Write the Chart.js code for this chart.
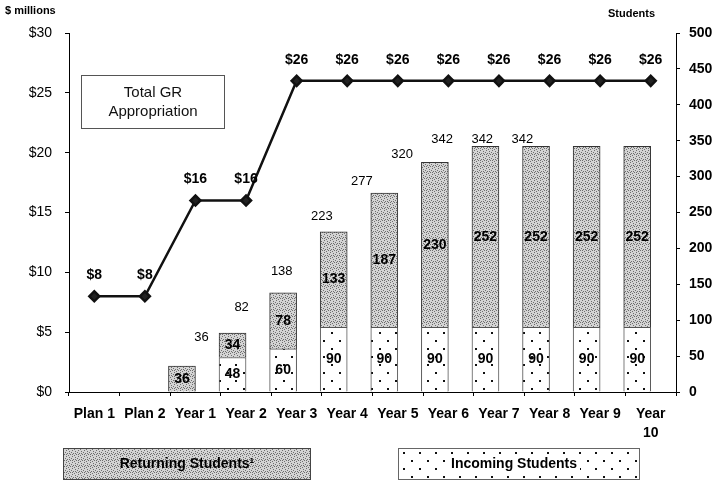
<!DOCTYPE html>
<html>
<head>
<meta charset="utf-8">
<script src="https://cdn.jsdelivr.net/npm/chart.js@4/dist/chart.umd.min.js"></script>
<style>
  html, body { margin: 0; padding: 0; background: #fff; }
  #wrap { width: 716px; height: 483px; }
</style>
</head>
<body>
<div id="wrap"><canvas id="myChart" width="716" height="483"></canvas></div>
<script>
const labels = ['Plan 1', 'Plan 2', 'Year 1', 'Year 2', 'Year 3', 'Year 4', 'Year 5',
  'Year 6', 'Year 7', 'Year 8', 'Year 9', ['Year', '10']];
const appropriation = [8, 8, 16, 16, 26, 26, 26, 26, 26, 26, 26, 26];
const incoming = [null, null, null, 48, 60, 90, 90, 90, 90, 90, 90, 90];
const returning = [null, null, 36, 34, 78, 133, 187, 230, 252, 252, 252, 252];
// total labels as they sit in the original (Year 10 has none)
const totals = [null, null, 36, 82, 138, 223, 277, 320, 342, 342, 342, null];
const leftTicks = [0, 5, 10, 15, 20, 25, 30];
const rightTicks = [0, 50, 100, 150, 200, 250, 300, 350, 400, 450, 500];

const FONT = 'Liberation Sans, Arial, sans-serif';

function makePattern(size, bg, dots, dotColor, dot) {
  const c = document.createElement('canvas');
  c.width = size; c.height = size;
  const g = c.getContext('2d');
  g.fillStyle = bg;
  g.fillRect(0, 0, size, size);
  g.fillStyle = dotColor;
  dots.forEach(p => g.fillRect(p[0], p[1], dot, dot));
  return g.createPattern(c, 'repeat');
}
const ctx = document.getElementById('myChart').getContext('2d');
const grayFill = makePattern(6, '#d4d4d4',
  [[0, 0], [3, 1], [5, 2], [1, 3], [4, 4], [2, 5], [0, 4], [3, 3]], '#6e6e6e', 1);
const dotFill = makePattern(16, '#ffffff', [[3, 4], [11, 12]], '#111', 2);

const totalPoints = totals.map((v, i) => v == null ? null : { x: i, y: v }).filter(p => p);

const labelPlugin = {
  id: 'labelPlugin',
  afterDatasetsDraw(chart) {
    const c = chart.ctx;
    c.save();
    c.textAlign = 'center';
    c.textBaseline = 'middle';
    c.fillStyle = '#000';
    // segment labels
    c.font = 'bold 14px ' + FONT;
    [0, 1].forEach(di => {
      const meta = chart.getDatasetMeta(di);
      meta.data.forEach((bar, i) => {
        const v = chart.data.datasets[di].data[i];
        if (!v) return;
        c.fillText(String(v), bar.x, (bar.y + bar.base) / 2);
      });
    });
    // line labels
    const lm = chart.getDatasetMeta(2);
    lm.data.forEach((pt, i) => {
      c.fillText('$' + appropriation[i], pt.x, pt.y - 21);
    });
    // totals
    c.font = '13px ' + FONT;
    const tm = chart.getDatasetMeta(3);
    tm.data.forEach((pt, i) => {
      c.fillText(String(totalPoints[i].y), pt.x, pt.y);
    });
    c.restore();
  },
  afterDraw(chart) {
    const c = chart.ctx;
    c.save();
    c.textBaseline = 'middle';
    c.fillStyle = '#000';
    c.font = 'bold 11px ' + FONT;
    c.textAlign = 'left';
    c.fillText('$ millions', 5, 11);
    c.fillText('Students', 608, 14);

    // Total GR Appropriation box
    c.strokeStyle = '#555';
    c.lineWidth = 1;
    c.fillStyle = '#fff';
    c.fillRect(81.5, 75.5, 143, 53);
    c.strokeRect(81.5, 75.5, 143, 53);
    c.fillStyle = '#111';
    c.textAlign = 'center';
    c.font = '15px ' + FONT;
    c.fillText('Total GR', 153, 93);
    c.fillText('Appropriation', 153, 112);

    // legend boxes
    c.font = 'bold 14px ' + FONT;
    c.fillStyle = grayFill;
    c.fillRect(63.5, 448.5, 247, 31);
    c.strokeStyle = '#444';
    c.strokeRect(63.5, 448.5, 247, 31);
    c.fillStyle = dotFill;
    c.fillRect(398.5, 448.5, 241, 31);
    c.strokeStyle = '#666';
    c.strokeRect(398.5, 448.5, 241, 31);
    const w = c.measureText('Incoming Students').width;
    c.fillStyle = '#fff';
    c.fillRect(514 - w / 2 - 3, 456, w + 6, 16);
    c.fillStyle = '#000';
    c.fillText('Returning Students\u00b9', 187, 464);
    c.fillText('Incoming Students', 514, 464);
    c.restore();
  }
};

new Chart(ctx, {
  type: 'bar',
  data: {
    labels: labels,
    datasets: [
      {
        label: 'Incoming Students',
        data: incoming,
        yAxisID: 'yR',
        stack: 's',
        backgroundColor: dotFill,
        borderColor: '#555',
        borderWidth: 1,
        barThickness: 27,
        order: 2
      },
      {
        label: 'Returning Students',
        data: returning,
        yAxisID: 'yR',
        stack: 's',
        backgroundColor: grayFill,
        borderColor: '#333',
        borderWidth: 1,
        barThickness: 27,
        order: 2
      },
      {
        type: 'line',
        label: 'Total GR Appropriation',
        data: appropriation,
        yAxisID: 'y',
        borderColor: '#111',
        borderWidth: 2.5,
        pointStyle: 'rectRot',
        pointRadius: 5,
        pointBackgroundColor: '#222',
        pointBorderColor: '#111',
        tension: 0,
        order: 0
      },
      {
        type: 'scatter',
        label: 'Totals',
        data: totalPoints,
        xAxisID: 'x2',
        yAxisID: 'y3',
        pointRadius: 0,
        showLine: false,
        order: 1
      }
    ]
  },
  options: {
    responsive: false,
    animation: false,
    layout: { padding: { top: 33, left: 0, right: 0, bottom: 0 } },
    plugins: { legend: { display: false }, tooltip: { enabled: false } },
    scales: {
      x: {
        stacked: true,
        grid: { drawOnChartArea: false, drawTicks: true, tickLength: 4, color: '#000', offset: true },
        border: { display: true, color: '#000', width: 1 },
        ticks: {
          color: '#000', padding: 8, maxRotation: 0, autoSkip: false,
          font: { family: FONT, size: 14, weight: 'bold', lineHeight: 1.4 }
        },
        afterFit: s => { s.height = 91; }
      },
      x2: { type: 'linear', display: false, min: -0.223, max: 12.75 },
      y: {
        position: 'left',
        min: 0, max: 30,
        afterBuildTicks: s => { s.ticks = leftTicks.map(v => ({ value: v })); },
        grid: { drawOnChartArea: false, drawTicks: true, tickLength: 4, color: '#000' },
        border: { display: true, color: '#000', width: 1 },
        ticks: {
          color: '#000', padding: 13,
          font: { family: FONT, size: 14 },
          callback: v => '$' + v
        },
        afterFit: s => { s.width = 69; }
      },
      yR: {
        position: 'right',
        stacked: true,
        min: 0, max: 500,
        afterBuildTicks: s => { s.ticks = rightTicks.map(v => ({ value: v })); },
        grid: { drawOnChartArea: false, drawTicks: true, tickLength: 4, color: '#000' },
        border: { display: true, color: '#000', width: 1 },
        ticks: {
          color: '#000', padding: 9,
          font: { family: FONT, size: 14, weight: 'bold' }
        },
        afterFit: s => { s.width = 40; }
      },
      y3: { type: 'linear', display: false, min: -48, max: 507 }
    }
  },
  plugins: [labelPlugin]
});
</script>
</body>
</html>
